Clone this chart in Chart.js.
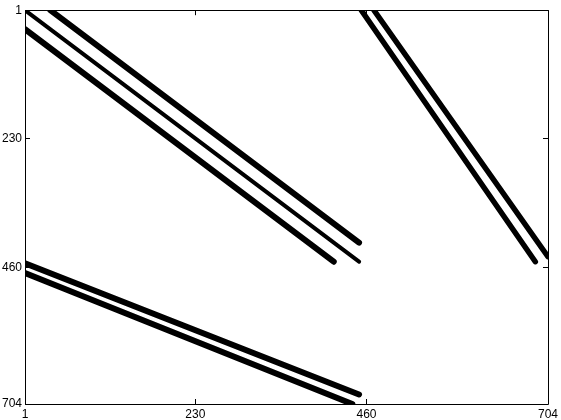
<!DOCTYPE html>
<html>
<head>
<meta charset="utf-8">
<script src="https://cdn.jsdelivr.net/npm/chart.js@4"></script>
<style>
  body { margin: 0; background: #fff; }
  canvas { display: block; }
</style>
</head>
<body>
<canvas id="spy" width="561" height="420"></canvas>
<script>
// tick values (same on both axes)
const axisTicks = [1, 230, 460, 704];

// nonzero bands of the matrix, endpoints as [column, row]
const bandMain = [[1, 1], [450, 450]];
const bandUpper = [[35, 1], [450, 416]];
const bandLower = [[1, 35], [416, 450]];
const couplingTopA = [[453, 1], [687, 450]];
const couplingTopB = [[470, 1], [704, 441]];
const couplingBottomA = [[1, 453], [450, 687]];
const couplingBottomB = [[1, 470], [441, 704]];

let toPoints = (seg) => seg.map(p => ({ x: p[0], y: p[1] }));

let makeBand = (seg, width) => ({
    data: toPoints(seg),
    showLine: true,
    borderColor: '#000',
    borderWidth: width,
    borderCapStyle: 'round',
    pointRadius: 0,
    clip: 0
});

// box + inward tick marks like the original figure
const frameTicks = {
    id: 'frameTicks',
    afterDraw(chart) {
        let ctx = chart.ctx;
        let a = chart.chartArea;
        let xs = chart.scales.x, ys = chart.scales.y;
        let len = 5;
        ctx.save();
        ctx.strokeStyle = '#000';
        ctx.lineWidth = 1;
        ctx.beginPath();
        ctx.rect(Math.round(a.left) + 0.5, Math.round(a.top) + 0.5,
            Math.round(a.right - a.left), Math.round(a.bottom - a.top));
        axisTicks.forEach(v => {
            let px = Math.round(xs.getPixelForValue(v)) + 0.5;
            ctx.moveTo(px, a.bottom);
            ctx.lineTo(px, a.bottom - len);
            ctx.moveTo(px, a.top);
            ctx.lineTo(px, a.top + len);
            let py = Math.round(ys.getPixelForValue(v)) + 0.5;
            ctx.moveTo(a.left, py);
            ctx.lineTo(a.left + len, py);
            ctx.moveTo(a.right, py);
            ctx.lineTo(a.right - len, py);
        });
        ctx.stroke();
        ctx.restore();
    }
};

let tickFont = { family: 'Arial, "Liberation Sans", sans-serif', size: 12 };

new Chart(document.getElementById('spy'), {
    type: 'scatter',
    data: {
        datasets: [
            makeBand(bandMain, 4),
            makeBand(bandUpper, 6),
            makeBand(bandLower, 6),
            makeBand(couplingTopA, 5.5),
            makeBand(couplingTopB, 5.5),
            makeBand(couplingBottomA, 6),
            makeBand(couplingBottomB, 6)
        ]
    },
    options: {
        responsive: false,
        animation: false,
        devicePixelRatio: 1,
        layout: { padding: { top: 7, right: 12, left: 0, bottom: 0 } },
        plugins: { legend: { display: false }, tooltip: { enabled: false } },
        scales: {
            x: {
                type: 'linear',
                position: 'bottom',
                min: 1,
                max: 704,
                grid: { display: false, drawTicks: false },
                border: { display: false },
                afterBuildTicks: (s) => { s.ticks = axisTicks.map(v => ({ value: v })); },
                afterFit: (s) => { s.height = 16; },
                ticks: { color: '#000', font: tickFont, padding: 3, autoSkip: false, maxRotation: 0 }
            },
            y: {
                type: 'linear',
                reverse: true,
                min: 1,
                max: 704,
                grid: { display: false, drawTicks: false },
                border: { display: false },
                afterBuildTicks: (s) => { s.ticks = axisTicks.map(v => ({ value: v })); },
                afterFit: (s) => { s.width = 25; },
                ticks: { color: '#000', font: tickFont, padding: 3, autoSkip: false }
            }
        }
    },
    plugins: [frameTicks]
});
</script>
</body>
</html>
